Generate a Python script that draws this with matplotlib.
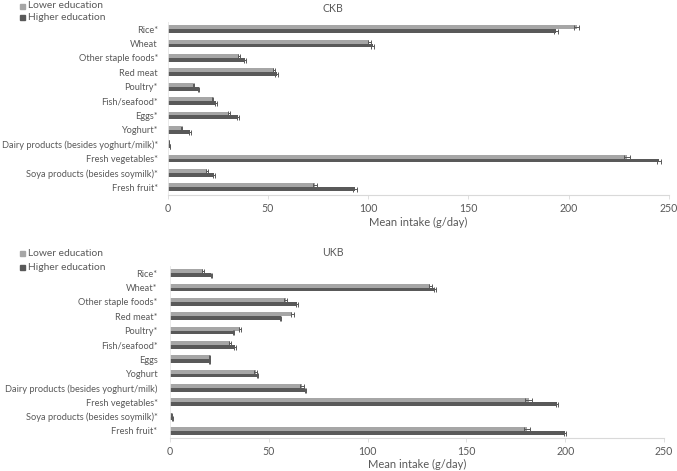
import matplotlib
matplotlib.use("Agg")
import matplotlib.pyplot as plt
import numpy as np

plt.rcParams['font.family'] = ['Lato', 'DejaVu Sans']

ckb_categories = ["Rice*", "Wheat", "Other staple foods*", "Red meat", "Poultry*",
                  "Fish/seafood*", "Eggs*", "Yoghurt*", "Dairy products (besides yoghurt/milk)*",
                  "Fresh vegetables*", "Soya products (besides soymilk)*", "Fresh fruit*"]
ckb_lower = [204, 100.6, 35.6, 53, 12.8, 22.4, 30.6, 6.8, 0.5, 229, 19.7, 73.5]
ckb_higher = [193.5, 102.3, 38.5, 54.3, 15.4, 24.2, 35.0, 11.2, 1.0, 245, 23.0, 93.5]
ckb_lower_err = [1.2, 0.8, 0.5, 0.5, 0.3, 0.4, 0.4, 0.3, 0.1, 1.5, 0.4, 0.9]
ckb_higher_err = [1.0, 0.8, 0.6, 0.6, 0.3, 0.4, 0.5, 0.4, 0.1, 1.2, 0.4, 1.0]

ukb_categories = ["Rice*", "Wheat*", "Other staple foods*", "Red meat*", "Poultry*",
                  "Fish/seafood*", "Eggs", "Yoghurt", "Dairy products (besides yoghurt/milk)",
                  "Fresh vegetables*", "Soya products (besides soymilk)*", "Fresh fruit*"]
ukb_lower = [16.5, 131.8, 58.5, 61.8, 35.6, 30.2, 20.0, 43.3, 66.8, 181.5, 0.8, 180.5]
ukb_higher = [20.8, 134.2, 64.2, 56.0, 32.2, 32.9, 20.0, 44.3, 68.5, 196.0, 1.2, 200.0]
ukb_lower_err = [0.5, 0.8, 0.8, 0.7, 0.5, 0.5, 0.3, 0.6, 0.9, 1.6, 0.1, 1.5]
ukb_higher_err = [0.3, 0.4, 0.4, 0.3, 0.3, 0.3, 0.2, 0.3, 0.4, 0.6, 0.1, 0.5]

legend_labels = ["Lower education", "Higher education"]
x_ticks = [0, 50, 100, 150, 200, 250]
xlabel = "Mean intake (g/day)"

LIGHT = "#a6a6a6"
DARK = "#595959"
TXT = "#595959"
W, H = 677, 471

fig = plt.figure(figsize=(6.77, 4.71), dpi=100)

def panel(left, right, top, bottom, cats, low, high, lerr, herr, title,
          title_y, leg_y, leg_dy, xlabel_y, ypad):
    ax = fig.add_axes([left / W, 1 - bottom / H, (right - left) / W, (bottom - top) / H])
    y = np.arange(len(cats))
    h = 0.27
    ekw = dict(ecolor=DARK, elinewidth=0.7, capsize=1.8, capthick=0.7)
    ax.barh(y - h / 2, low, height=h, color=LIGHT, xerr=lerr, error_kw=ekw)
    ax.barh(y + h / 2, high, height=h, color=DARK, xerr=herr, error_kw=ekw)
    ax.set_ylim(len(cats) - 0.5, -0.5)
    ax.set_xlim(0, 250)
    ax.set_xticks(x_ticks)
    ax.set_yticks(y)
    ax.set_yticklabels(cats, fontsize=6.7, color=TXT)
    ax.tick_params(axis='y', length=0, pad=ypad)
    ax.tick_params(axis='x', labelsize=7.6, colors=TXT, length=3, width=0.6,
                   color="#d9d9d9", pad=3)
    for s in ['top', 'right']:
        ax.spines[s].set_visible(False)
    ax.spines['bottom'].set_color("#d9d9d9")
    ax.spines['left'].set_color("#e6e6e6")
    ax.spines['bottom'].set_linewidth(0.8)
    ax.spines['left'].set_linewidth(0.6)
    fig.text((left + right) / 2 / W, 1 - xlabel_y / H, xlabel, fontsize=8, color=TXT,
             ha='center', va='center')
    fig.text(333 / W, 1 - title_y / H, title, fontsize=7.6, color=TXT, ha='center', va='center')
    for i, (lab, col) in enumerate(zip(legend_labels, [LIGHT, DARK])):
        yy = 1 - (leg_y + i * leg_dy) / H
        fig.patches.append(plt.Rectangle((20 / W, yy - 2.5 / H), 4.5 / W, 5 / H,
                                         transform=fig.transFigure, color=col, figure=fig))
        fig.text(28 / W, yy, lab, fontsize=7.4, color=TXT, ha='left', va='center')
    return ax

panel(167.7, 669, 22, 194.5, ckb_categories, ckb_lower, ckb_higher, ckb_lower_err,
      ckb_higher_err, "CKB", 8, 6, 11.5, 222, 7)
panel(170, 664, 266, 438, ukb_categories, ukb_lower, ukb_higher, ukb_lower_err,
      ukb_higher_err, "UKB", 253, 253, 14.5, 464, 9)

fig.savefig("out.png", dpi=100, facecolor="white")
